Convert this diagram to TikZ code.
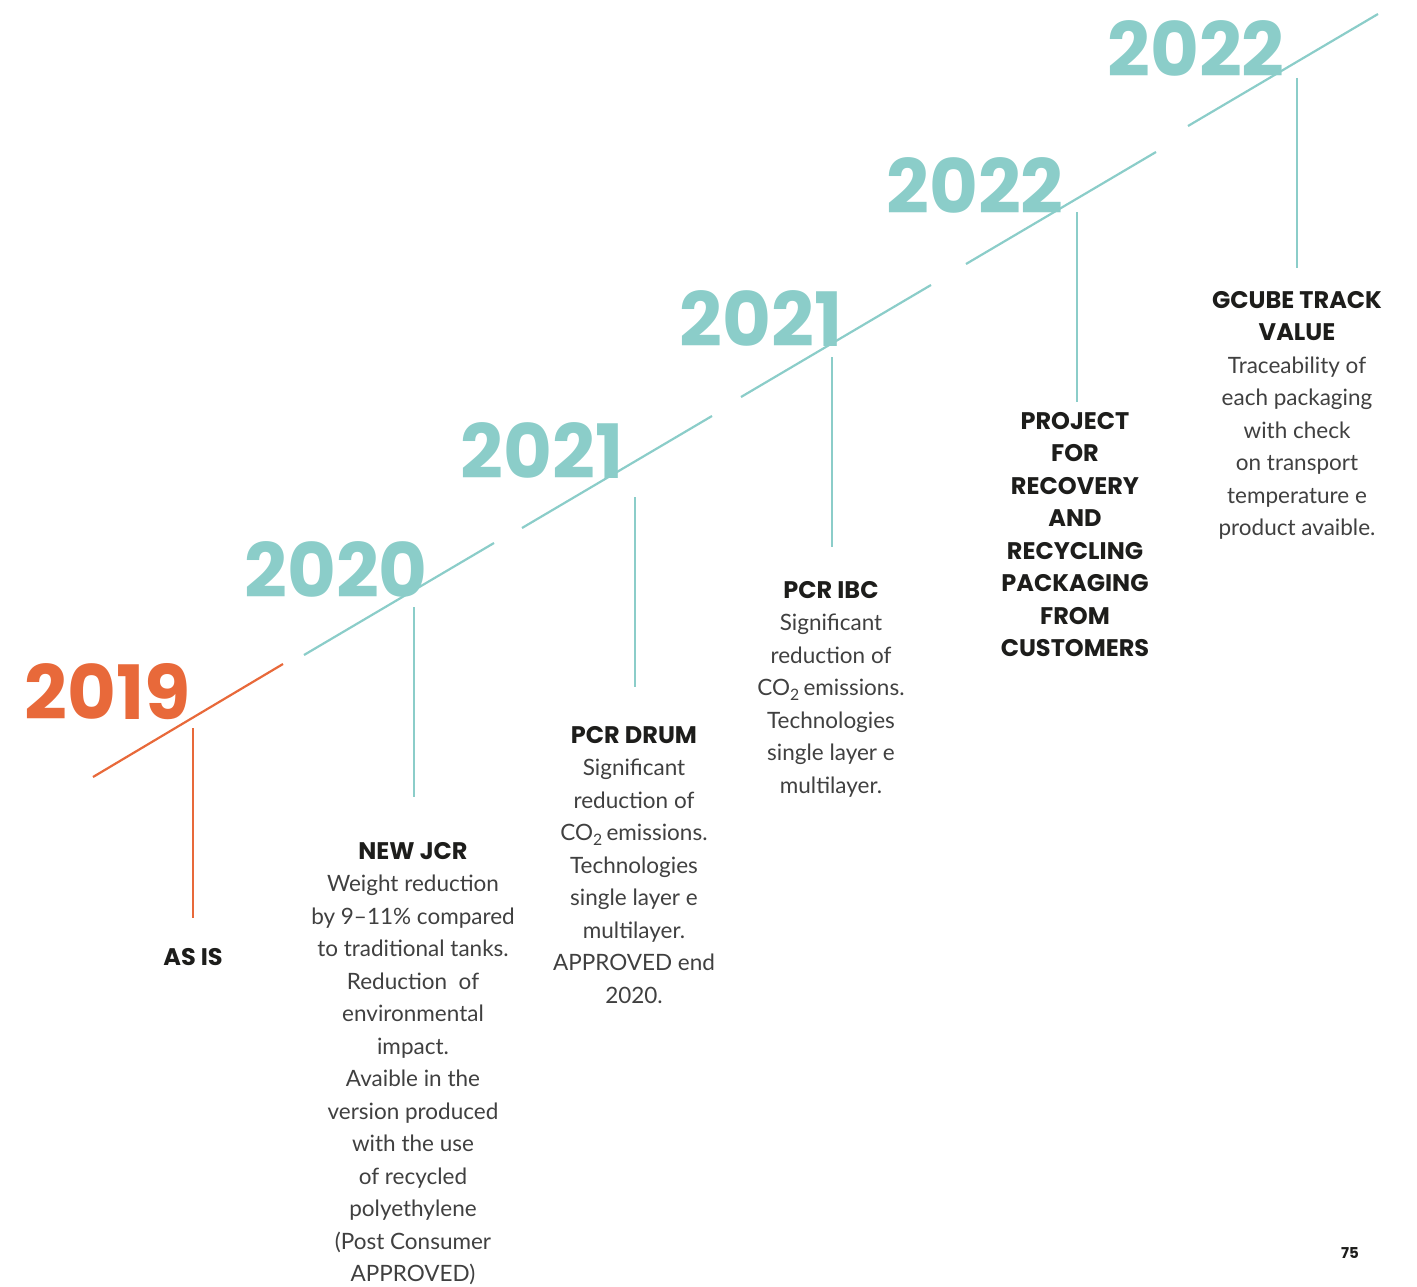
\documentclass[tikz,border=0pt]{standalone}
\usepackage{fontspec}
\setmainfont{Lato}
\newfontfamily\yearfont{Poppins}
\definecolor{orangeC}{HTML}{E8693A}
\definecolor{tealC}{HTML}{8BCDC9}
\definecolor{titleC}{HTML}{1D1D1B}
\definecolor{bodyC}{HTML}{404040}
\tikzset{
  year/.style={inner sep=0pt, font={\yearfont\bfseries\fontsize{75}{75}\selectfont}},
  seg/.style={line width=2.2pt},
  stem/.style={line width=2pt},
  info/.style={inner sep=0pt, align=center, anchor=north, text=bodyC, font={\fontsize{22.5}{32.5}\selectfont}},
}
\newcommand{\ttl}[1]{{\yearfont\bfseries\fontsize{24}{32.5}\selectfont\color{titleC}#1}}
\begin{document}
\begin{tikzpicture}[x=1pt,y=-1pt]
\useasboundingbox (0,0) rectangle (1417,1287);
% diagonal segments
\coordinate (s0a) at (93,777);  \coordinate (s0b) at (283,664);
\coordinate (s1a) at (304,655); \coordinate (s1b) at (494,543);
\coordinate (s2a) at (522,528); \coordinate (s2b) at (712,416);
\coordinate (s3a) at (741,397); \coordinate (s3b) at (931,285);
\coordinate (s4a) at (966,264); \coordinate (s4b) at (1156,152);
\coordinate (s5a) at (1188,126);\coordinate (s5b) at (1378,14);
\draw[seg, orangeC] (s0a) -- (s0b);
\draw[seg, tealC] (s1a) -- (s1b);
\draw[seg, tealC] (s2a) -- (s2b);
\draw[seg, tealC] (s3a) -- (s3b);
\draw[seg, tealC] (s4a) -- (s4b);
\draw[seg, tealC] (s5a) -- (s5b);
% stems
\coordinate (t0a) at (193,728);  \coordinate (t0b) at (193,918);
\coordinate (t1a) at (414,607);  \coordinate (t1b) at (414,797);
\coordinate (t2a) at (635,497);  \coordinate (t2b) at (635,687);
\coordinate (t3a) at (832,357);  \coordinate (t3b) at (832,547);
\coordinate (t4a) at (1077,212); \coordinate (t4b) at (1077,402);
\coordinate (t5a) at (1297,78);  \coordinate (t5b) at (1297,268);
\draw[stem, orangeC] (t0a) -- (t0b);
\draw[stem, tealC] (t1a) -- (t1b);
\draw[stem, tealC] (t2a) -- (t2b);
\draw[stem, tealC] (t3a) -- (t3b);
\draw[stem, tealC] (t4a) -- (t4b);
\draw[stem, tealC] (t5a) -- (t5b);
% years
\node[year, text=orangeC] (y0) at (108,692) {2019};
\node[year, text=tealC] (y1) at (336,570) {2020};
\node[year, text=tealC] (y2) at (542,451) {2021};
\node[year, text=tealC] (y3) at (761,319) {2021};
\node[year, text=tealC] (y4) at (975,186) {2022};
\node[year, text=tealC] (y5) at (1196,49) {2022};
% texts
\node[info] (b0) at (193,948) {\ttl{AS IS}};
\node[info] (b1) at (413,842) {\ttl{NEW JCR}\\Weight reduction\\by 9–11\% compared\\to traditional tanks.\\Reduction\ \ of\\environmental\\impact.\\Avaible in the\\version produced\\with the use\\of recycled\\polyethylene\\(Post Consumer\\APPROVED)};
\node[info] (b2) at (634,726) {\ttl{PCR DRUM}\\Significant\\reduction of\\CO\textsubscript{2}\,emissions.\\Technologies\\single layer e\\multilayer.\\APPROVED end\\2020.};
\node[info] (b3) at (831,581) {\ttl{PCR IBC}\\Significant\\reduction of\\CO\textsubscript{2}\,emissions.\\Technologies\\single layer e\\multilayer.};
\node[info] (b4) at (1075,412) {\ttl{PROJECT}\\\ttl{FOR}\\\ttl{RECOVERY}\\\ttl{AND}\\\ttl{RECYCLING}\\\ttl{PACKAGING}\\\ttl{FROM}\\\ttl{CUSTOMERS}};
\node[info] (b5) at (1297,291) {\ttl{GCUBE TRACK}\\\ttl{VALUE}\\Traceability of\\each packaging\\with check\\on transport\\temperature e\\product avaible.};
\node[inner sep=0pt, text=titleC, font={\yearfont\bfseries\fontsize{15}{15}\selectfont}] (pg) at (1350,1253) {75};
\end{tikzpicture}
\end{document}
